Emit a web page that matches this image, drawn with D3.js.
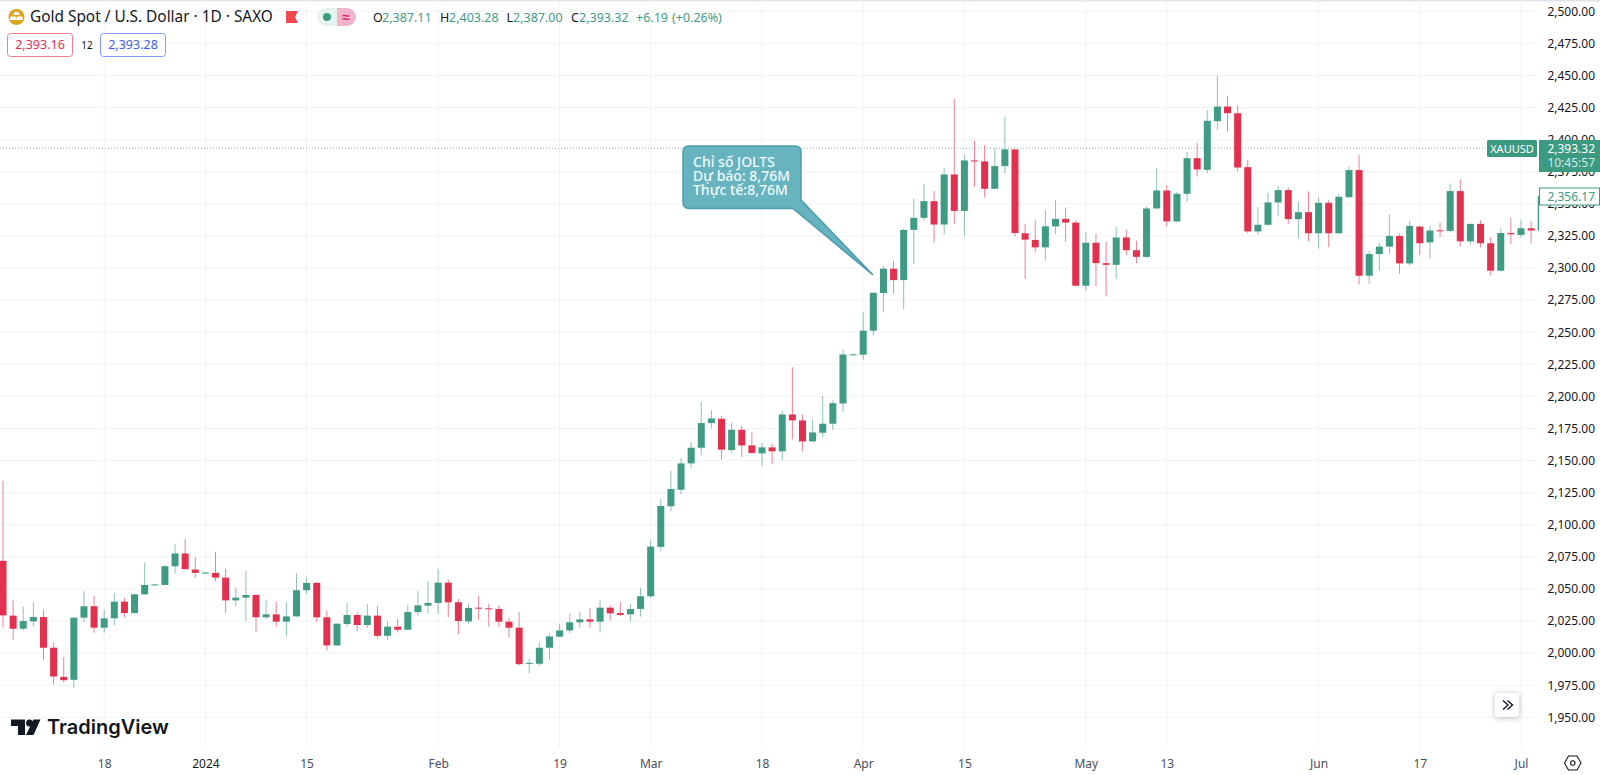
<!DOCTYPE html>
<html>
<head>
<meta charset="utf-8">
<style>
    html, body { margin: 0; padding: 0; background: #fff; overflow: hidden; }
    svg { display: block; font-family: "Noto Sans", sans-serif; }
</style>
</head>
<body>
<svg width="1600" height="775"></svg>
<script src="https://d3js.org/d3.v7.min.js"></script>
<script>

    // daily candles
    var opens = [2071.9,2029.2,2019,2024.7,2028.1,2004.2,1981.5,1979.2,2027.6,2036.5,2019.8,2027.1,2040.1,2031.2,2045.8,2053,2053.1,2067.7,2077.6,2065.1,
        2062,2062.5,2058.8,2041.1,2043.2,2045.3,2027.9,2030.2,2024.5,2028.6,2049,2054.7,2027.9,2006,2022.7,2029.7,2021.9,2029.2,2013.5,2020.6,
        2018.2,2032,2037,2039.1,2054.9,2039.6,2024.7,2035.4,2034.9,2034.4,2024.5,2019.8,1991.9,1991.7,2004.2,2012.8,2017.7,2024,2026.3,2024.5,
        2035.4,2031.2,2030.2,2034.4,2044.3,2082.8,2114.4,2127.3,2147.8,2160,2179.2,2182.6,2158.2,2174,2161.8,2155.6,2160.3,2157.2,2185.9,2181.3,
        2164.9,2171.7,2178.7,2194.5,2232.2,2232.5,2251.2,2280.5,2299.5,2290.6,2329.7,2339.1,2352.1,2333.9,2372.9,2344.5,2383.8,2383.1,2361.7,2379.4,
        2392.4,2327.1,2321.9,2316.1,2332.5,2338.3,2335.4,2286.2,2319.7,2303.8,2302.5,2323.8,2313.9,2308.7,2346.4,2360.4,2336.3,2357.8,2385.6,2376.5,
        2414.4,2425.8,2420.6,2378.6,2328.5,2333.7,2351.1,2360.7,2338.1,2343.5,2327.1,2350.8,2327.1,2355.2,2376.3,2294,2310.9,2316.7,2325,2303.6,
        2332.3,2320,2329.4,2328.9,2359.9,2320.8,2334.4,2319.3,2297.9,2327.3,2325.8,2331,2329.2];
    var highs = [2134.4,2041.4,2036.2,2039.8,2033.9,2008.1,1996.9,2027.6,2048.2,2044.8,2033.6,2046.9,2043.2,2046.1,2070.6,2054,2068.7,2084.6,2088.8,2074.7,
        2063,2078.9,2065.6,2051,2064.1,2045.8,2041.7,2040.1,2039.8,2062.2,2058.6,2055.5,2033.1,2023.2,2039.1,2031.8,2038,2036.7,2025.3,2026.6,
        2037.8,2048.7,2056,2065.6,2057.3,2042.2,2038.5,2044.8,2038.5,2037.2,2027.3,2032.3,1995.8,2008.3,2015.4,2022.9,2030.7,2032.3,2034.9,2041.4,
        2037,2039.8,2038,2050.8,2088.5,2120.1,2141.9,2152.2,2164.6,2195.5,2189.3,2184.9,2179.7,2177.1,2172.2,2163.6,2163.1,2188.8,2222.7,2185.9,
        2181.8,2200.4,2197.1,2236.7,2233,2265.5,2281,2301.3,2305.7,2330.5,2354.2,2365.6,2360.2,2377.9,2432,2387.8,2399,2395.6,2393.5,2418,
        2392.8,2334.4,2337.2,2345,2352.9,2347.1,2336.7,2328,2326.7,2320.7,2331.9,2329.8,2321.2,2347.7,2378,2364.6,2359.4,2390.3,2397.3,2423,
        2450,2433.9,2426.6,2384.3,2347.4,2358.6,2364,2362.7,2351.8,2359.6,2354.9,2352.9,2357.5,2378.9,2388,2313.3,2319.5,2341.7,2326.8,2336.7,
        2332.8,2333.1,2335.2,2365.9,2369,2334.4,2337.2,2324,2331,2339,2337.8,2336.7,2356.2];
    var lows = [2020,2010.2,2017.7,2020.8,1994.8,1975.5,1977.1,1972.9,2024.2,2015.9,2015.9,2021.6,2027.9,2031,2045.6,2053,2053,2062,2065.1,2058.6,
        2061.8,2056,2031,2036.5,2024.7,2016.7,2026.3,2020.8,2013,2028.4,2046.3,2024.2,2001.8,2005.8,2020.8,2016.9,2019.5,2011.5,2010.2,2016.1,
        2018,2029.4,2031,2030.2,2027.9,2014.8,2023.2,2026,2020.6,2020.3,2012.2,1990.4,1984.4,1990.1,1994.8,2012.5,2015.4,2019.8,2019.8,2016.1,
        2025.3,2028.9,2024.7,2028.4,2043,2079.4,2110.5,2123.7,2144.4,2154.3,2175,2150.7,2156.1,2152.8,2155.6,2146,2147,2149.9,2166.5,2157.2,
        2164.6,2168.3,2173.8,2187.7,2232,2228.4,2247.3,2265.6,2280.2,2268,2302.9,2337.2,2319.8,2326,2334.1,2324.7,2363.3,2355,2361.5,2373.4,
        2324.7,2291.4,2312.2,2305.5,2326.6,2320.6,2285.7,2282,2285.6,2277.9,2291.6,2310.3,2303.8,2307.5,2345.9,2332.4,2335.5,2351.6,2371.3,2373.9,
        2407.7,2406.4,2375.2,2327.2,2325.9,2332.9,2340.2,2334.4,2322.9,2320.8,2315.1,2316.1,2326.6,2354.2,2287.2,2287.8,2298.2,2311.2,2295.6,2301.8,
        2310.4,2307.3,2324.2,2327.9,2316.9,2318.2,2316.1,2294.3,2297.1,2318.8,2323.7,2319,2328.5];
    var closes = [2029.4,2019,2025,2028.1,2004.2,1981.8,1978.9,2027.6,2036.5,2019.8,2027.1,2040.1,2031.2,2045.8,2053.1,2053.5,2067.7,2077.6,2065.4,2062.5,
        2062.8,2058.8,2041.1,2043.2,2045.3,2027.9,2030.2,2024.5,2028.6,2049,2054.7,2027.9,2006,2022.9,2029.7,2021.9,2029.2,2013.5,2020.6,2018.2,
        2032,2037.2,2039.1,2054.9,2039.6,2025,2035.2,2034.9,2034.4,2024.5,2019.8,1991.4,1992.4,2004.2,2013,2017.7,2024,2026.3,2024.5,2035.4,
        2031,2029.7,2034.4,2044.3,2083,2114.6,2127.9,2147.8,2160,2179.2,2182.8,2158.5,2174,2161.8,2155.9,2160.3,2157.2,2185.9,2181.3,2164.9,
        2171.9,2178.7,2194.7,2232.6,2232.8,2251.2,2280.7,2299.5,2290.6,2329.7,2339.1,2352.1,2333.9,2372.9,2344.5,2383.8,2383.3,2361.7,2379.4,2392.4,
        2327.3,2322.1,2316.1,2332.5,2338.3,2335.4,2286.2,2319.7,2303.8,2302.5,2323.8,2313.9,2308.7,2346.4,2360.4,2336.3,2357.8,2385.6,2376.8,2414.7,
        2425.8,2420.6,2378.3,2328.5,2333.7,2351.1,2360.7,2338.1,2343.5,2327.1,2350.8,2327.1,2355.5,2376.3,2294,2310.9,2316.7,2325,2303.6,2332.8,
        2319.3,2329.2,2328.9,2359.9,2320.8,2334.4,2319.3,2297.9,2327.3,2326.3,2331,2329.2,2356.17];

    var priceTicks = [1950,1975,2000,2025,2050,2075,2100,2125,2150,2175,2200,2225,2250,2275,2300,2325,2350,2375,2400,2425,2450,2475,2500];
    var dateTickIndex = [10,20,30,43,55,64,75,85,95,107,115,130,140,150];
    var dateTickLabels = ["18","2024","15","Feb","19","Mar","18","Apr","15","May","13","Jun","17","Jul"];
    var boldDates = ["2024"];
    var lastPrice = 2393.32;
    var headerValues = ["2,387.11","2,403.28","2,387.00","2,393.32"];
    var calloutLines = ["Chỉ số JOLTS","Dự báo: 8,76M","Thực tế:8,76M"];

    var green = "#3f9b83", red = "#e2314f", grid = "#f2f3f7", ink = "#131722";

    var svg = d3.select("svg"),
        plotRight = 1538,
        plotBottom = 748;

    var x = d3.scaleLinear().domain([0, opens.length - 1]).range([3, 3 + (opens.length - 1) * 10.12]);
    var y = d3.scaleLinear().domain([1950, 2500]).range([717.3, 11.3]);

    // last candle only shows as a sliver at the axis edge
    svg.append("defs").append("clipPath").attr("id", "plot")
        .append("rect").attr("width", plotRight + 1).attr("height", plotBottom);

    svg.append("rect").attr("width", 1600).attr("height", 1.5).attr("fill", "#e0e3eb");

    // grid
    svg.append("g").selectAll("line").data(priceTicks).join("line")
        .attr("x1", 0).attr("x2", plotRight)
        .attr("y1", function(d) { return y(d); }).attr("y2", function(d) { return y(d); })
        .attr("stroke", grid);
    svg.append("g").selectAll("line").data(dateTickIndex).join("line")
        .attr("x1", function(d) { return x(d); }).attr("x2", function(d) { return x(d); })
        .attr("y1", 0).attr("y2", plotBottom)
        .attr("stroke", grid);

    // last price line
    svg.append("line")
        .attr("x1", 0).attr("x2", plotRight)
        .attr("y1", y(lastPrice)).attr("y2", y(lastPrice))
        .attr("stroke", green).attr("stroke-opacity", 0.6).attr("stroke-dasharray", "1 2");

    // candles
    var candles = svg.append("g").attr("clip-path", "url(#plot)")
        .selectAll("g").data(opens).join("g");

    function candleColor(d, i) { return closes[i] >= d ? green : red; }

    candles.append("line")
        .attr("x1", function(d, i) { return x(i); }).attr("x2", function(d, i) { return x(i); })
        .attr("y1", function(d, i) { return y(highs[i]); })
        .attr("y2", function(d, i) { return y(lows[i]); })
        .attr("stroke", candleColor).attr("stroke-opacity", 0.6);

    candles.append("rect")
        .attr("x", function(d, i) { return x(i) - 3.5; })
        .attr("width", 7)
        .attr("y", function(d, i) { return y(Math.max(d, closes[i])); })
        .attr("height", function(d, i) { return Math.max(1, Math.abs(y(d) - y(closes[i]))); })
        .attr("fill", candleColor);

    // axes
    var yAxis = svg.append("g")
        .attr("transform", "translate(" + plotRight + ",0)")
        .call(d3.axisRight(y).tickValues(priceTicks).tickSize(0).tickFormat(d3.format(",.2f")));
    yAxis.select(".domain").remove();
    yAxis.selectAll("text")
        .attr("x", 57).attr("text-anchor", "end")
        .attr("fill", ink).style("font-size", "12px").style("font-family", '"Noto Sans", sans-serif');

    var xAxis = svg.append("g")
        .attr("transform", "translate(0," + plotBottom + ")")
        .call(d3.axisBottom(x).tickValues(dateTickIndex).tickSize(0)
            .tickFormat(function(d, i) { return dateTickLabels[i]; }));
    xAxis.select(".domain").remove();
    xAxis.selectAll("text")
        .attr("y", 20).attr("dy", 0)
        .attr("fill", function(d, i) { return boldDates.indexOf(dateTickLabels[i]) >= 0 ? ink : "#4a4e5a"; })
        .style("font-size", "12px").style("font-family", '"Noto Sans", sans-serif');

    // price badges
    svg.append("rect").attr("x", 1487).attr("y", 140).attr("width", 50).attr("height", 17).attr("rx", 1.5).attr("fill", "#3c9a80");
    svg.append("text").attr("x", 1512).attr("y", 153).attr("text-anchor", "middle")
        .attr("fill", "#fff").attr("font-size", 11).text("XAUUSD");
    svg.append("rect").attr("x", 1539).attr("y", 140).attr("width", 61).attr("height", 32).attr("fill", "#3c9a80");
    svg.append("text").attr("x", 1595).attr("y", 153).attr("text-anchor", "end")
        .attr("fill", "#fff").attr("font-size", 12).text("2,393.32");
    svg.append("text").attr("x", 1595).attr("y", 167).attr("text-anchor", "end")
        .attr("fill", "#d5ebe4").attr("font-size", 12).text("10:45:57");
    svg.append("rect").attr("x", 1539.5).attr("y", 188).attr("width", 60).attr("height", 17)
        .attr("fill", "#fff").attr("stroke", green);
    svg.append("text").attr("x", 1595).attr("y", 201).attr("text-anchor", "end")
        .attr("fill", green).attr("font-size", 12).text("2,356.17");

    // callout
    svg.append("path")
        .attr("d", "M689,146H795Q801,146 801,152V200L873,275L793,208.5H689Q683,208.5 683,202V152Q683,146 689,146Z")
        .attr("fill", "#67b3bf").attr("stroke", "#4a9dae").attr("stroke-width", 1.5);
    svg.append("g").selectAll("text").data(calloutLines).join("text")
        .attr("x", 693).attr("y", function(d, i) { return 167 + i * 14; })
        .attr("fill", "#f2fafb").attr("font-size", 14).attr("font-weight", 500)
        .text(function(d) { return d; });

    // header
    var header = svg.append("g");
    header.append("circle").attr("cx", 16.5).attr("cy", 17).attr("r", 8).attr("fill", "#d9a520");
    header.append("path").attr("d", "M14.5,12h4l1.5,3h-7ZM10.5,16.5h5l1,3.5h-7ZM17,16.5h5l1,3.5h-7Z").attr("fill", "#fff");
    header.append("text").attr("x", 30).attr("y", 22).attr("fill", ink).attr("font-size", 15.4)
        .text("Gold Spot / U.S. Dollar · 1D · SAXO");
    header.append("path").attr("d", "M286,11H298L295,17L298,23H286Z").attr("fill", "#f0484f");
    header.append("path").attr("d", "M326,8H337V26H326A9,9 0 0 1 326,8Z").attr("fill", "#e6f4ef");
    header.append("path").attr("d", "M337,8H347A9,9 0 0 1 347,26H337Z").attr("fill", "#f2b3cd");
    header.append("circle").attr("cx", 327).attr("cy", 17).attr("r", 4).attr("fill", green);
    header.append("text").attr("x", 346).attr("y", 22).attr("text-anchor", "middle").attr("fill", "#d6246e")
        .attr("font-size", 14).attr("font-weight", 700).text("≈");

    var headerKeys = [["O", 373, 382], ["H", 440, 449], ["L", 506.5, 513], ["C", 571, 579]];
    headerKeys.forEach(function(k, i) {
        header.append("text").attr("x", k[1]).attr("y", 22).attr("fill", ink).attr("font-size", 12.5).text(k[0]);
        header.append("text").attr("x", k[2]).attr("y", 22).attr("fill", green).attr("font-size", 12.5).text(headerValues[i]);
    });
    header.append("text").attr("x", 636).attr("y", 22).attr("fill", green).attr("font-size", 12.5).text("+6.19");
    header.append("text").attr("x", 672).attr("y", 22).attr("fill", green).attr("font-size", 12.5).text("(+0.26%)");

    header.append("rect").attr("x", 7.5).attr("y", 33.5).attr("width", 65).attr("height", 23).attr("rx", 3)
        .attr("fill", "#fff").attr("stroke", "#f2808f");
    header.append("text").attr("x", 40).attr("y", 49).attr("text-anchor", "middle").attr("fill", "#e2314f").attr("font-size", 12.5).text("2,393.16");
    header.append("text").attr("x", 87).attr("y", 48.5).attr("text-anchor", "middle").attr("fill", ink).attr("font-size", 10).text("12");
    header.append("rect").attr("x", 100.5).attr("y", 33.5).attr("width", 65).attr("height", 23).attr("rx", 3)
        .attr("fill", "#fff").attr("stroke", "#8299ff");
    header.append("text").attr("x", 133).attr("y", 49).attr("text-anchor", "middle").attr("fill", "#3d5cf0").attr("font-size", 12.5).text("2,393.28");

    // logo
    var logo = svg.append("g").attr("fill", "#131722");
    logo.append("path").attr("d", "M11,719.5H25V735H18V726H11Z");
    logo.append("circle").attr("cx", 29.5).attr("cy", 723).attr("r", 3.5);
    logo.append("path").attr("d", "M33.5,719.5H40.5L33.5,735H26Z");
    logo.append("text").attr("x", 47).attr("y", 734).attr("font-family", "Inter").attr("font-size", 20)
        .attr("font-weight", 600).text("TradingView");

    // scroll button
    svg.append("rect").attr("x", 1495).attr("y", 693).attr("width", 24).attr("height", 24).attr("rx", 3)
        .attr("fill", "#fff").style("filter", "drop-shadow(0 1px 3px rgba(0,0,0,.25))");
    svg.append("path").attr("d", "M1503,700.5L1508,705L1503,709.5M1507.5,700.5L1512.5,705L1507.5,709.5")
        .attr("fill", "none").attr("stroke", ink).attr("stroke-width", 1.4);

    // settings gear
    svg.append("path").attr("d", "M1568.5,756H1577L1581,763L1577,770H1568.5L1564.5,763Z")
        .attr("fill", "none").attr("stroke", ink).attr("stroke-width", 1.1);
    svg.append("circle").attr("cx", 1572.8).attr("cy", 763).attr("r", 2.2)
        .attr("fill", "none").attr("stroke", ink).attr("stroke-width", 1.1);

</script>
</body>
</html>
